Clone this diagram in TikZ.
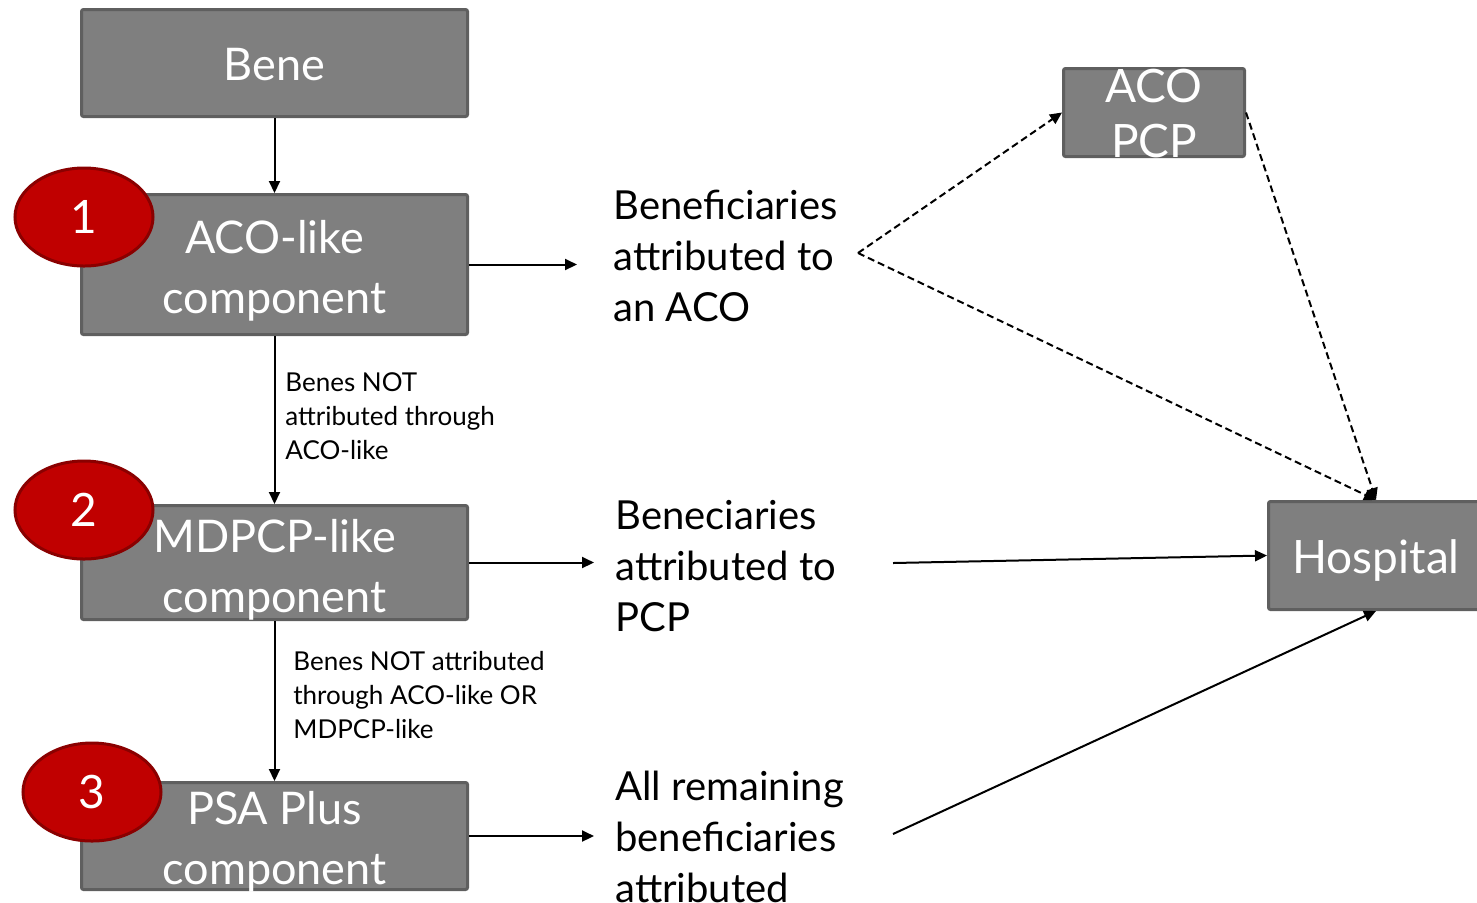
\documentclass[tikz,border=0pt]{standalone}
\usepackage{fontspec}
\setmainfont{Lato}
\usetikzlibrary{arrows.meta,shapes.geometric}
\definecolor{boxgray}{HTML}{7F7F7F}
\definecolor{boxline}{HTML}{5F5F5F}
\definecolor{numred}{HTML}{C00000}
\definecolor{numline}{HTML}{8A0000}
\begin{document}
\begin{tikzpicture}[x=0.5pt,y=-0.5pt,
  comp/.style={rectangle, rounded corners=1pt, fill=boxgray, draw=boxline, line width=1.5pt, text=white, inner sep=0pt, align=center, font=\fontsize{22.5}{30}\selectfont},
  lbl/.style={inner sep=0pt, text=white, align=center, font=\fontsize{22.5}{30}\selectfont},
  num/.style={ellipse, fill=numred, draw=numline, line width=1.5pt, text=white, inner sep=0pt, minimum width=69pt, minimum height=49pt, font=\fontsize{23}{28}\selectfont},
  side/.style={anchor=west, inner sep=0pt, align=left, font=\fontsize{20}{25.5}\selectfont},
  note/.style={anchor=west, inner sep=0pt, align=left, font=\fontsize{13}{17}\selectfont},
  arr/.style={-{Triangle[length=6pt,width=5.5pt]}, line width=1pt},
  dasharr/.style={arr, line width=1pt, dash pattern=on 3.5pt off 2pt}]
\useasboundingbox (0,0) rectangle (1477,902);
% left column
\node[comp, minimum width=193pt, minimum height=53.5pt] (bene) at (274.5,63) {};
\node[lbl] (benelbl) at (274.5,65) {Bene};
\node[comp, minimum width=193pt, minimum height=70pt] (acolike) at (274.5,264.5) {};
\node[lbl] (acolikelbl) at (274.5,271) {ACO-like\\component};
\node[comp, minimum width=193pt, minimum height=57pt] (mdpcp) at (274.5,562.5) {};
\node[lbl] (mdpcplbl) at (274.5,570) {MDPCP-like\\component};
\node[comp, minimum width=193pt, minimum height=53.5pt] (psa) at (274.5,836) {};
\node[lbl] (psalbl) at (274.5,842) {PSA Plus\\component};
\node[num] (n1) at (84,217) {1};
\node[num] (n2) at (84,510) {2};
\node[num] (n3) at (92,792) {3};
\draw[arr](bene) -- (acolike);
\draw[arr](acolike) -- (mdpcp);
\draw[arr](mdpcp) -- (psa);
\node[note] (nt1) at (285,416) {Benes NOT\\attributed through\\ACO-like};
\node[note] (nt2) at (293,695) {Benes NOT attributed\\through ACO-like OR\\MDPCP-like};
% middle column
\node[side] (acotxt) at (613,256) {Beneficiaries\\attributed to\\an ACO};
\node[side] (pcptxt) at (615,566) {Beneciaries\\attributed to\\PCP};
\node[side] (resttxt) at (615,837) {All remaining\\beneficiaries\\attributed};
\draw[arr, shorten >=18pt](acolike.east) -- (acolike.east -| acotxt.west);
\draw[arr, shorten >=10.5pt](mdpcp.east) -- (mdpcp.east -| pcptxt.west);
\draw[arr, shorten >=10.5pt](psa.east) -- (psa.east -| resttxt.west);
% right column
\node[comp, minimum width=90.5pt, minimum height=44pt] (acopcp) at (1154,112.5) {};
\node[lbl, font=\fontsize{23}{27.5}\selectfont] (acopcplbl) at (1154,114) {ACO\\PCP};
\node[comp, minimum width=107.5pt, minimum height=54pt] (hosp) at (1376,555.5) {};
\node[lbl, font=\fontsize{23}{28}\selectfont] (hosplbl) at (1376,560) {Hospital};
\coordinate (acosplit) at (858,253);
\coordinate (pcpout) at (893,563);
\coordinate (restout) at (893,834);
\draw[dasharr](acosplit) -- (acopcp.west);
\draw[dasharr](acosplit) -- (hosp.north);
\draw[dasharr](acopcp.east) -- (hosp.north);
\draw[arr](pcpout) -- (hosp.west);
\draw[arr](restout) -- (hosp.south);
\end{tikzpicture}
\end{document}
